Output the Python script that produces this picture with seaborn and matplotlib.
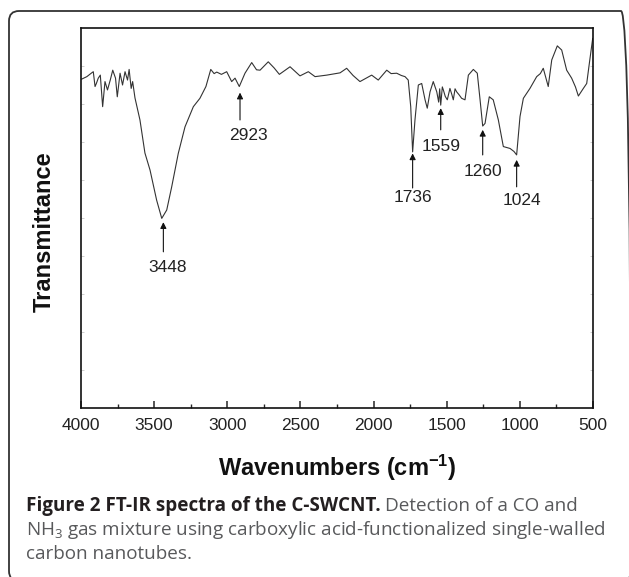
import numpy as np
import pandas as pd
import seaborn as sns
import matplotlib
matplotlib.use('Agg')
import matplotlib.pyplot as plt
from matplotlib.patches import FancyBboxPatch
from matplotlib.transforms import IdentityTransform

# 光谱数据 (从图中读取, 透射率为任意单位 0-100)
wavenumber = [3998, 3960, 3930, 3916, 3904, 3895, 3882, 3868, 3852, 3836, 3819, 3800,
              3783, 3764, 3752, 3733, 3716, 3699, 3682, 3671, 3657, 3647, 3631, 3597,
              3563, 3528, 3483, 3448, 3414, 3380, 3335, 3289, 3232, 3187, 3146, 3113,
              3090, 3072, 3040, 3004, 2970, 2947, 2918, 2879, 2833, 2800, 2776, 2720,
              2680, 2644, 2571, 2503, 2446, 2400, 2320, 2229, 2184, 2140, 2093, 2013,
              1968, 1910, 1880, 1842, 1810, 1785, 1763, 1746, 1733, 1717, 1694, 1671,
              1648, 1633, 1614, 1592, 1568, 1555, 1548, 1541, 1530, 1523, 1510, 1496,
              1478, 1465, 1455, 1443, 1432, 1415, 1398, 1375, 1352, 1318, 1291, 1272,
              1254, 1238, 1209, 1182, 1147, 1113, 1067, 1040, 1022, 999, 976, 931,
              885, 860, 840, 806, 782, 744, 714, 680, 646, 620, 600, 566, 543, 525, 502]
transmittance = [86.5, 87.2, 88.1, 88.5, 84.6, 85.4, 86.8, 87.6, 79.3, 85.9, 83.7, 86.3,
                 88.9, 86.8, 81.9, 88.1, 85.0, 88.5, 86.3, 89.1, 84.1, 85.9, 81.6, 75.8,
                 67.1, 62.6, 54.7, 49.9, 52.1, 58.2, 67.0, 74.0, 79.3, 81.5, 84.6, 89.1,
                 88.0, 88.4, 87.8, 88.5, 85.9, 86.8, 84.6, 88.1, 90.9, 89.0, 88.9, 91.1,
                 89.5, 87.8, 89.8, 87.4, 88.5, 87.2, 87.6, 88.2, 89.4, 87.5, 85.9, 87.6,
                 86.3, 88.9, 88.0, 88.1, 87.5, 87.2, 86.3, 79.3, 67.4, 75.8, 85.0, 85.4,
                 81.1, 78.9, 83.2, 85.9, 83.2, 80.5, 84.0, 79.7, 84.5, 83.7, 82.0, 81.1,
                 84.1, 82.5, 81.1, 84.0, 83.2, 82.4, 81.5, 81.1, 87.6, 89.1, 88.1, 81.1,
                 74.2, 74.9, 81.9, 81.1, 75.8, 68.8, 68.3, 67.5, 66.6, 76.7, 81.5, 84.1,
                 87.2, 88.0, 89.4, 84.6, 91.6, 95.3, 94.2, 88.9, 86.8, 84.5, 82.1, 84.1,
                 85.4, 90.7, 97.3]

# 峰标注: 标签, 箭头x, 箭头尖端y, 箭头尾部y, 文字y
peak_labels = ['3448', '2923', '1736', '1559', '1260', '1024']
peak_x = [3437, 2913, 1733, 1541, 1254, 1022]
arrow_tip = [48.9, 83.0, 67.0, 78.9, 73.2, 65.3]
arrow_tail = [41.1, 75.8, 57.9, 73.2, 66.6, 58.2]
text_y = [37.1, 71.8, 55.5, 68.8, 62.2, 54.7]
text_x = [3405, 2855, 1733, 1541, 1254, 987]

xticks = [4000, 3500, 3000, 2500, 2000, 1500, 1000, 500]

sns.set_theme(style='ticks')
plt.rcParams['font.family'] = ['Liberation Sans', 'DejaVu Sans']
plt.rcParams['mathtext.default'] = 'regular'
plt.rcParams['mathtext.fontset'] = 'custom'
plt.rcParams['mathtext.bf'] = 'Liberation Sans:bold'

W, H = 629, 577
fig = plt.figure(figsize=(W / 100, H / 100), dpi=100)
ax = fig.add_axes([81 / W, 1 - 408 / H, 512 / W, 380 / H])

df = pd.DataFrame({'wn': wavenumber, 't': transmittance})
sns.lineplot(data=df, x='wn', y='t', ax=ax, color='#333333', lw=0.8, sort=False)

ax.set_xlim(4000, 500)
ax.set_ylim(0, 100)
ax.set_xticks(xticks)
ax.set_xticks(np.arange(750, 4000, 500), minor=True)
ax.set_xticklabels([str(t) for t in xticks], fontsize=12.5, color='#222222')
ax.set_yticks(np.arange(10, 100, 10))
ax.set_yticklabels([])
ax.tick_params(axis='x', which='major', direction='in', length=5, width=1.1, pad=7,
               top=False)
ax.tick_params(axis='x', which='minor', direction='in', length=3, width=1.0, top=False)
ax.tick_params(axis='y', which='major', direction='in', length=2.5, width=0.4,
               color='#aaaaaa', left=True, right=True)
ax.set_xlabel('')
ax.set_ylabel('')
for s in ax.spines.values():
    s.set_visible(True)
    s.set_linewidth(1.2)
    s.set_color('#111111')

# 峰位箭头与标签
for lab, px, tip, tail, tx, ty in zip(peak_labels, peak_x, arrow_tip, arrow_tail, text_x, text_y):
    ax.annotate('', xy=(px, tip), xytext=(px, tail),
                arrowprops=dict(arrowstyle='-|>', color='#111111', lw=0.8,
                                mutation_scale=9, shrinkA=0, shrinkB=0))
    ax.text(tx, ty, lab, ha='center', va='center', fontsize=12.5, color='#222222')

fig.text(44 / W, 1 - 232 / H, 'Transmittance', rotation=90, ha='center', va='center',
         fontsize=17, fontweight='bold', color='#111111')
fig.text(337 / W, 1 - 468 / H, r'Wavenumbers (cm$^{\mathbf{-1}}$)', ha='center', va='center',
         fontsize=17, fontweight='bold', color='#111111')

# 外框
frame = FancyBboxPatch((9, -4), 622, H - 11 + 4,
                       boxstyle='round,pad=0,rounding_size=10',
                       transform=IdentityTransform(), fill=False,
                       edgecolor='#333333', lw=1.3)
fig.add_artist(frame)

# 图注
cap_font = ['Open Sans', 'DejaVu Sans']
cap_size = 13.6
t1 = fig.text(26 / W, 1 - 506 / H, 'Figure 2 FT-IR spectra of the C-SWCNT.',
              ha='left', va='center', fontsize=cap_size, fontweight='bold',
              family=cap_font, color='#231f20')
r = fig.canvas.get_renderer()
bb = t1.get_window_extent(renderer=r)
fig.text((bb.x1 + 4) / W, 1 - 506 / H, 'Detection of a CO and', ha='left', va='center',
         fontsize=cap_size, family=cap_font, color='#58595b')
fig.text(26 / W, 1 - 530 / H,
         'NH$_3$ gas mixture using carboxylic acid-functionalized single-walled',
         ha='left', va='center', fontsize=cap_size, family=cap_font, color='#58595b')
fig.text(26 / W, 1 - 554 / H, 'carbon nanotubes.', ha='left', va='center',
         fontsize=cap_size, family=cap_font, color='#58595b')

fig.savefig('out.png', dpi=100)
